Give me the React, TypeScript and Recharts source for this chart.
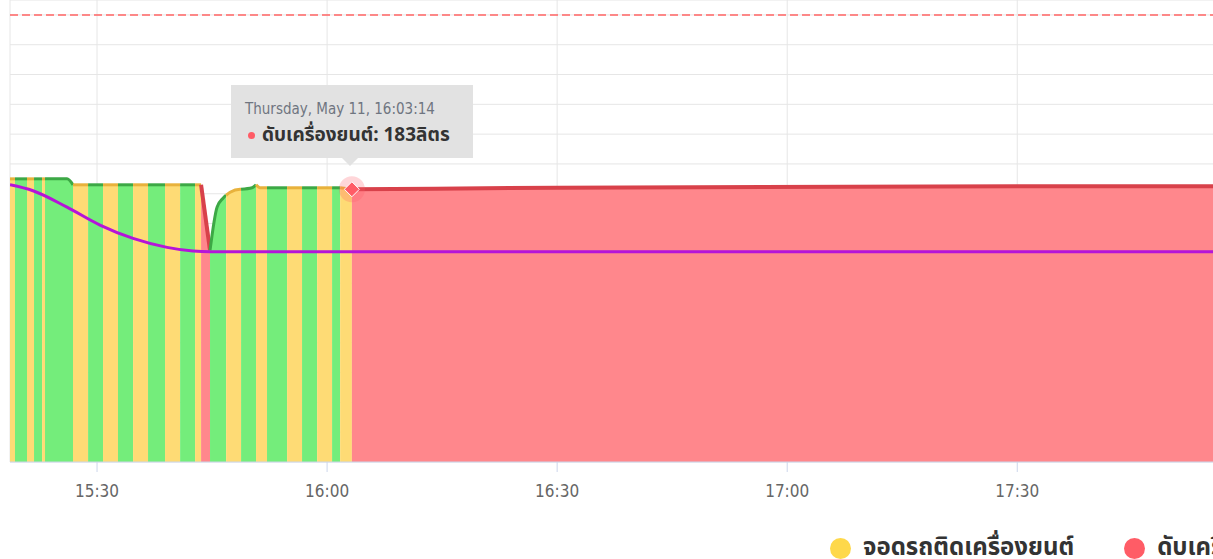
import { ComposedChart, Area, Line, XAxis, YAxis, CartesianGrid, ReferenceLine, ReferenceDot, Tooltip, Legend } from 'recharts';

// fuel level readings (litres) at each sample time
const levelTimes = [
  '15:18:39', '15:19:18', '15:20:52', '15:21:47', '15:22:50', '15:23:13', '15:26:05', '15:26:52',
  '15:28:50', '15:30:47', '15:32:44', '15:34:42', '15:36:39', '15:38:52', '15:40:50', '15:42:47',
  '15:43:34', '15:44:44', '15:45:39', '15:46:26', '15:46:50', '15:47:21', '15:48:39', '15:48:47',
  '15:50:13', '15:50:44', '15:51:15', '15:52:10', '15:54:47', '15:56:44', '15:58:42', '16:00:39',
  '16:01:42', '16:03:14', '16:30:00', '17:30:00', '18:10:00',
];
const levelValues = [
  190, 190, 190, 190, 190, 190, 190, 186,
  186, 186, 186, 186, 186, 186, 186, 186,
  186, 142, 171, 177, 179, 181, 183, 183,
  184, 186, 184, 184, 184, 184, 184, 184,
  184, 183, 184, 185, 185,
];

// engine state zones: run = driving, idle = parked with engine on, off = engine off
const zoneStarts = [
  '15:18:39', '15:19:18', '15:20:52', '15:21:47', '15:22:50', '15:23:13', '15:26:52', '15:28:50',
  '15:30:47', '15:32:44', '15:34:42', '15:36:39', '15:38:52', '15:40:50', '15:42:47', '15:43:34',
  '15:44:44', '15:46:50', '15:48:47', '15:50:44', '15:52:10', '15:54:47', '15:56:44', '15:58:42',
  '16:00:39', '16:01:42', '16:03:14',
];
const zoneStates = [
  'idle', 'run', 'idle', 'run', 'idle', 'run', 'idle', 'run',
  'idle', 'run', 'idle', 'run', 'idle', 'run', 'idle', 'off',
  'run', 'idle', 'run', 'idle', 'run', 'idle', 'run', 'idle',
  'run', 'idle', 'off',
];

// reference / average line
const avgTimes = ['15:18:39', '15:21:39', '15:26:05', '15:30:23', '15:34:42', '15:39:08', '15:42:31', '15:44:44', '18:10:00'];
const avgValues = [186, 182, 171, 159, 150, 144, 141.5, 141, 141];

const xTicks = ['15:30', '16:00', '16:30', '17:00', '17:30'];
const yTicks = [0, 20, 40, 60, 80, 100, 120, 140, 160, 180, 200, 220, 240, 260, 280, 300];
const tankLimit = 300;

const legendLabels = ['จอดรถติดเครื่องยนต์', 'ดับเครื่องยนต์'];
const legendStates = ['idle', 'off'];

const tooltipTime = '16:03:14';
const tooltipDay = 'Thursday, May 11';

const COLORS: Record<string, { fill: string; stroke: string; dot: string }> = {
  run: { fill: '#74ed7b', stroke: '#3ca845', dot: '#5ddb62' },
  idle: { fill: '#fedb75', stroke: '#e8b23c', dot: '#fed84a' },
  off: { fill: '#ff878c', stroke: '#d8414a', dot: '#ff5c66' },
};
const STATE_LABEL: Record<string, string> = {
  run: 'รถวิ่ง',
  idle: 'จอดรถติดเครื่องยนต์',
  off: 'ดับเครื่องยนต์',
};

const NARROW = "'Liberation Sans Narrow', 'DejaVu Sans Condensed', Roboto, sans-serif";
const THAI = "'Noto Sans Thai', 'Noto Sans', 'DejaVu Sans', sans-serif";

const toSec = (s: string) => {
  const [h, m, sec] = s.split(':').map(Number);
  return h * 3600 + m * 60 + (sec || 0);
};
const pad = (n: number) => String(n).padStart(2, '0');
const fmtHM = (v: number) => `${Math.floor(v / 3600)}:${pad(Math.floor((v % 3600) / 60))}`;
const fmtHMS = (v: number) => `${fmtHM(v)}:${pad(Math.round(v % 60))}`;

const zoneSecs = zoneStarts.map(toSec);
const endSec = toSec(levelTimes[levelTimes.length - 1]);

// one key per zone so neighbouring zones of the same state never join up
const data = levelTimes.map((t, i) => {
  const s = toSec(t);
  const row: Record<string, number> = { t: s };
  zoneSecs.forEach((z, k) => {
    const next = k + 1 < zoneSecs.length ? zoneSecs[k + 1] : endSec;
    if (s >= z && s <= next) row[`z${k}`] = levelValues[i];
  });
  return row;
});

const avgData = avgTimes.map((t, i) => ({ t: toSec(t), avg: avgValues[i] }));
const tipIndex = data.findIndex((r) => r.t === toSec(tooltipTime));

const DiamondMarker = (props: any) => {
  const { cx, cy } = props;
  if (cx == null || cy == null) return <g />;
  const r = 7.5;
  return (
    <g>
      <circle cx={cx} cy={cy} r={13} fill="#ff5c66" fillOpacity={0.25} />
      <path
        d={`M${cx},${cy - r} L${cx + r},${cy} L${cx},${cy + r} L${cx - r},${cy} Z`}
        fill="#ff5c66"
        stroke="#ffffff"
        strokeWidth={1}
      />
    </g>
  );
};

const FuelTooltip = ({ payload }: any) => {
  const entry = (payload || []).find(
    (p: any) => p.value != null && String(p.dataKey).startsWith('z') && zoneStates[Number(String(p.dataKey).slice(1))] === 'off'
  );
  const value = entry ? entry.value : levelValues[tipIndex];
  const t = entry?.payload?.t ?? toSec(tooltipTime);
  return (
    <div style={{ position: 'relative' }}>
      <div
        style={{
          width: 242,
          height: 73,
          boxSizing: 'border-box',
          background: '#e2e2e2',
          padding: '16px 0 0 14px',
        }}
      >
        <div style={{ fontFamily: NARROW, fontSize: 15, color: '#6f7580', lineHeight: '16px' }}>
          {tooltipDay}, {fmtHMS(t)}
        </div>
        <div style={{ display: 'flex', alignItems: 'center', marginTop: 4, fontFamily: THAI }}>
          <span style={{ width: 7, height: 7, borderRadius: 4, background: '#ff5c66', marginLeft: 3, marginRight: 7 }} />
          <span style={{ fontSize: 19, fontWeight: 700, color: '#333' }}>
            {STATE_LABEL.off}: {value}ลิตร
          </span>
        </div>
      </div>
      <div
        style={{
          position: 'absolute',
          left: 111,
          top: 73,
          width: 0,
          height: 0,
          borderLeft: '8px solid transparent',
          borderRight: '8px solid transparent',
          borderTop: '8px solid #e2e2e2',
        }}
      />
    </div>
  );
};

const FuelLegend = () => (
  <div style={{ display: 'flex', alignItems: 'center', whiteSpace: 'nowrap', fontFamily: THAI }}>
    {legendLabels.map((label, i) => (
      <div key={label} style={{ display: 'flex', alignItems: 'center', marginRight: 50 }}>
        <span
          style={{
            width: 21,
            height: 21,
            borderRadius: 11,
            background: COLORS[legendStates[i]].dot,
            marginRight: 12,
          }}
        />
        <span style={{ fontSize: 24, fontWeight: 700, color: '#333' }}>{label}</span>
      </div>
    ))}
  </div>
);

export default function App() {
  return (
    <div style={{ position: 'absolute', left: 0, top: 0, width: 1213, height: 559, overflow: 'hidden', background: '#fff' }}>
      <ComposedChart width={1324} height={559} data={data} margin={{ top: 0, right: 0, left: 10, bottom: 29 }}>
        <CartesianGrid stroke="#e6e6e6" />
        <XAxis
          dataKey="t"
          type="number"
          domain={[toSec(levelTimes[0]), endSec]}
          ticks={xTicks.map(toSec)}
          tickFormatter={fmtHM}
          height={40}
          axisLine={{ stroke: '#ccd6eb' }}
          tickLine={{ stroke: '#ccd6eb' }}
          tickSize={10}
          tickMargin={13}
          tick={{ fill: '#666', fontSize: 17, fontFamily: NARROW }}
          allowDataOverflow
        />
        <YAxis hide domain={[0, 310]} ticks={yTicks} allowDataOverflow />
        <ReferenceLine y={tankLimit} stroke="#ff6464" strokeWidth={1.5} strokeDasharray="8 4" />
        {zoneStates.map((st, k) => (
          <Area
            key={`z${k}`}
            dataKey={`z${k}`}
            name={STATE_LABEL[st]}
            type="monotone"
            fill={COLORS[st].fill}
            fillOpacity={1}
            stroke={COLORS[st].stroke}
            strokeWidth={st === 'off' ? 4 : 3}
            connectNulls={false}
            dot={false}
            activeDot={false}
            isAnimationActive={false}
          />
        ))}
        <Line
          data={avgData}
          dataKey="avg"
          type="monotone"
          stroke="#b514d9"
          strokeWidth={3}
          dot={false}
          activeDot={false}
          isAnimationActive={false}
        />
        <ReferenceDot
          x={toSec(tooltipTime)}
          y={levelValues[tipIndex]}
          shape={<DiamondMarker />}
        />
        <Tooltip
          active
          defaultIndex={tipIndex}
          position={{ x: 231, y: 85 }}
          cursor={false}
          content={<FuelTooltip />}
          isAnimationActive={false}
          wrapperStyle={{ outline: 'none' }}
        />
        <Legend
          content={<FuelLegend />}
          wrapperStyle={{ left: 830, top: 530, width: 700, height: 28 }}
        />
      </ComposedChart>
    </div>
  );
}
